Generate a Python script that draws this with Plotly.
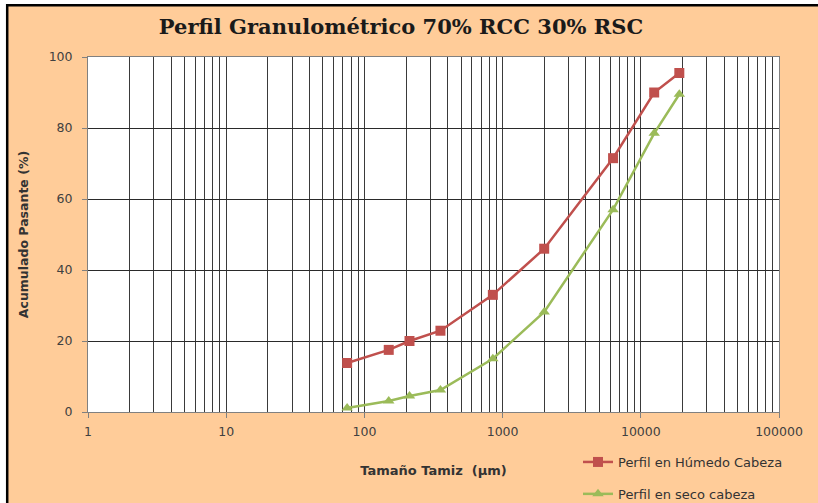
import plotly.graph_objects as go

# ---- data ----
sizes_humedo = [75, 150, 212, 355, 850, 2000, 6300, 12500, 19000]
pasante_humedo = [13.8, 17.5, 20.0, 22.9, 33.0, 46.0, 71.5, 90.0, 95.5]
sizes_seco = [75, 150, 212, 355, 850, 2000, 6300, 12500, 19000]
pasante_seco = [1.1, 3.1, 4.5, 6.2, 15.0, 28.2, 57.0, 78.5, 89.5]
x_tickvals = [1, 10, 100, 1000, 10000, 100000]
x_ticktext = ["1", "10", "100", "1000", "10000", "100000"]
y_tickvals = [0, 20, 40, 60, 80, 100]

W, H = 818, 503
L, R, T, B = 88, 779, 57, 412
PW, PH = R - L, B - T


def px(xp):
    return (xp - L) / PW


def py(yp):
    return (B - yp) / PH


fig = go.Figure()
fig.add_trace(go.Scatter(
    x=sizes_humedo, y=pasante_humedo, mode="lines+markers",
    name="Perfil en Húmedo Cabeza", legendgroup="a",
    line=dict(color="#C0504D", width=2.5),
    marker=dict(symbol="square", size=10, color="#C0504D"),
))
fig.add_trace(go.Scatter(
    x=sizes_seco, y=pasante_seco, mode="lines+markers",
    name="Perfil en seco cabeza", legendgroup="b",
    line=dict(color="#9BBB59", width=2.5),
    marker=dict(symbol="triangle-up", size=10, color="#9BBB59"),
))

tick_font = dict(family="DejaVu Sans", size=12.5, color="#404040")

fig.update_layout(
    width=W, height=H,
    margin=dict(l=L, r=W - R, t=T, b=H - B, autoexpand=False),
    paper_bgcolor="#FFCC99",
    plot_bgcolor="white",
    title=dict(text="<b>Perfil Granulométrico 70% RCC 30% RSC</b>",
               font=dict(family="DejaVu Serif", size=21, color="#1a1a1a"),
               xref="container", x=401 / W, xanchor="center",
               yref="container", y=1 - 27 / H, yanchor="middle"),
    showlegend=True,
    legend=dict(x=px(578), y=py(447), xanchor="left", yanchor="top",
                bgcolor="rgba(0,0,0,0)", tracegroupgap=12,
                font=dict(family="DejaVu Sans", size=13, color="#333333")),
    xaxis=dict(
        type="log", range=[0, 5],
        tickvals=x_tickvals, ticktext=x_ticktext,
        tickfont=tick_font,
        ticks="outside", ticklen=5, tickcolor="#808080",
        ticklabelstandoff=3,
        showgrid=True, gridcolor="#3a3a3a", gridwidth=1,
        minor=dict(dtick="D1", showgrid=True, gridcolor="#3a3a3a",
                   gridwidth=1, ticks=""),
        showline=True, linecolor="#808080", linewidth=1, mirror=True,
        title=dict(text="<b>Tamaño Tamiz  (µm)</b>",
                   font=dict(family="DejaVu Sans", size=13, color="#333333"),
                   standoff=27),
        zeroline=False,
    ),
    yaxis=dict(
        range=[0, 100], tickvals=y_tickvals,
        tickfont=tick_font,
        ticks="outside", ticklen=5, tickcolor="#808080",
        ticklabelstandoff=7,
        showgrid=True, gridcolor="#2a2a2a", gridwidth=1,
        showline=True, linecolor="#808080", linewidth=1, mirror=True,
        title=dict(text="<b>Acumulado Pasante (%)</b>",
                   font=dict(family="DejaVu Sans", size=12.5, color="#333333"),
                   standoff=17),
        zeroline=False,
    ),
)

# white strip outside the black frame (left & top), then the frame edges
fig.add_shape(type="rect", xref="paper", yref="paper",
              x0=px(-2), x1=px(W + 2), y0=py(4), y1=py(-2),
              fillcolor="white", line=dict(width=0), layer="above")
fig.add_shape(type="rect", xref="paper", yref="paper",
              x0=px(-2), x1=px(6), y0=py(H + 2), y1=py(-2),
              fillcolor="white", line=dict(width=0), layer="above")
frame_path = "M {x0},{y0} L {x0},{y1} L {x2},{y1}".format(
    x0=px(7.2), y0=py(H + 4), y1=py(5.2), x2=px(W + 4))
fig.add_shape(type="path", xref="paper", yref="paper", path=frame_path,
              line=dict(color="black", width=2.5), layer="above")

fig.write_html(
    "out.html",
    config={"displayModeBar": False},
    post_script="document.body.style.margin='0';document.body.style.padding='0';document.body.style.overflow='hidden';",
)
